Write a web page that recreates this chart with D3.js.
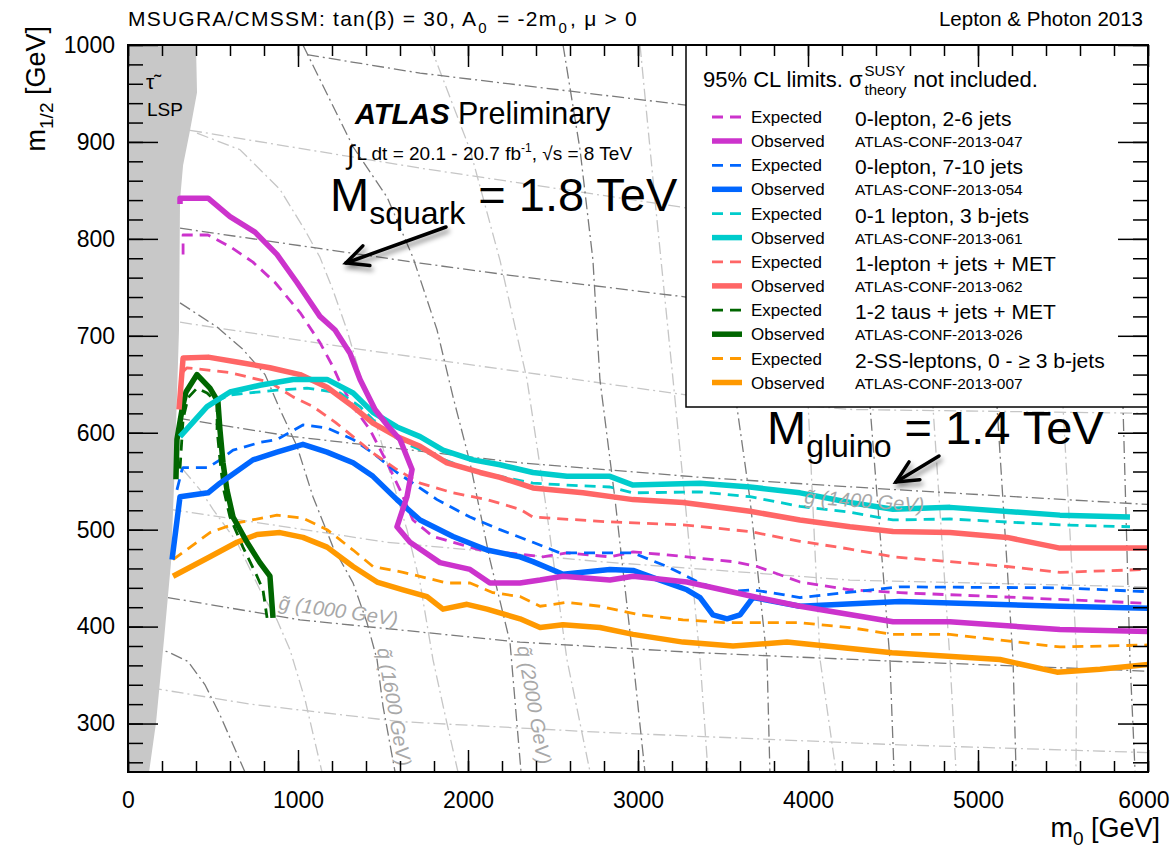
<!DOCTYPE html>
<html><head><meta charset="utf-8">
<script src="https://cdn.jsdelivr.net/npm/d3@7"></script>
<style>
body{margin:0;background:#fff}
svg{display:block}
text{font-family:"Liberation Sans",Arial,Helvetica,sans-serif}
</style>
</head><body>
<svg id="c" width="1170" height="848"></svg>
<script>
// ---------------- data ----------------
const xTicks=[0,1000,2000,3000,4000,5000,6000];
const yTicks=[300,400,500,600,700,800,900,1000];
const xMinor=d3.range(0,6001,200);
const yMinor=d3.range(260,1001,20);

// stau-LSP excluded region (m0, m1/2)
const lspRegion=[[0,250],[124,250],[165,301],[212,387],[253,466],[276,569],[300,706],[306,840],[324,876],[365,912],[406,951],[400,1000],[0,1000]];

// 0-lepton, 2-6 jets
const magExp=[[324,784],[324,804],[471,804],[600,792],[735,776],[865,755],[1012,724],[1129,693],[1206,668],[1247,652],[1324,627],[1424,603],[1524,569],[1600,541],[1676,510],[1794,493],[1912,487],[2071,479],[2441,472],[2582,476],[2835,472],[2971,477],[3171,474],[3559,467],[3700,462],[3953,446],[4247,438],[4541,435],[5229,430],[6000,424]];
const magObs=[[306,836],[306,842],[471,842],[600,823],[747,807],[876,784],[994,755],[1129,720],[1218,706],[1306,682],[1365,655],[1453,624],[1524,608],[1600,593],[1671,562],[1641,534],[1582,503],[1659,487],[1835,466],[2012,459],[2129,445],[2306,445],[2424,448],[2559,452],[2835,448],[2971,452],[3288,446],[3676,431],[3953,421],[4500,405],[4835,405],[5482,397],[6000,395]];
// 0-lepton, 7-10 jets
const blueExp=[[288,541],[318,562],[324,564],[471,564],[541,572],[618,582],[776,590],[876,593],[1029,608],[1171,605],[1324,593],[1441,579],[1582,559],[1676,548],[1818,531],[2012,513],[2188,500],[2382,487],[2541,476],[2835,476],[2971,476],[3171,462],[3365,445],[3524,436],[3676,438],[3953,430],[4541,441],[5482,440],[6000,436]];
const blueObs=[[259,469],[306,534],[471,538],[541,548],[735,572],[876,580],[1029,588],[1171,580],[1324,569],[1441,555],[1582,531],[1718,510],[1912,493],[2112,479],[2306,472],[2382,467],[2559,454],[2835,459],[2971,458],[3129,448],[3288,438],[3365,430],[3441,412],[3524,408],[3600,412],[3676,430],[3953,421],[4541,426],[5482,421],[6000,419]];
// 0-1 lepton, 3 b-jets
const cyanExp=[[512,632],[600,639],[876,644],[1053,646],[1247,641],[1365,627],[1482,606],[1618,590],[1818,575],[2012,562],[2188,555],[2382,548],[2582,546],[2835,544],[2971,538],[3365,539],[3659,534],[3953,524],[4247,518],[4500,510],[4835,511],[5482,505],[5894,503]];
const cyanObs=[[306,596],[465,627],[600,642],[776,649],[971,655],[1171,655],[1324,641],[1441,621],[1582,606],[1718,596],[1853,582],[2029,572],[2188,567],[2382,559],[2582,555],[2835,555],[2971,546],[3365,548],[3659,544],[3953,538],[4247,528],[4500,521],[4835,523],[5482,515],[5894,513]];
// 1-lepton + jets + MET
const redExp=[[324,663],[347,667],[600,662],[835,652],[971,637],[1088,627],[1218,611],[1324,596],[1441,579],[1582,562],[1718,548],[1912,538],[2112,531],[2306,521],[2382,513],[2835,508],[3265,505],[3659,498],[3953,488],[4247,480],[4500,472],[4835,467],[5171,462],[5482,456],[6000,459]];
const redObs=[[300,624],[324,677],[471,678],[641,673],[835,667],[1012,660],[1171,647],[1324,627],[1441,610],[1582,596],[1718,586],[1876,569],[2071,559],[2188,554],[2382,543],[2676,538],[2971,531],[3265,528],[3659,519],[3953,510],[4247,503],[4500,498],[4835,497],[5171,492],[5482,481],[6000,481]];
// 1-2 taus + jets + MET
const greenExp=[[306,563],[324,614],[353,636],[406,646],[465,641],[524,631],[524,603],[541,572],[559,544],[600,513],[676,482],[759,452],[794,438],[818,409]];
const greenObs=[[282,552],[288,593],[318,624],[341,642],[406,660],[482,646],[529,632],[541,603],[559,569],[582,541],[618,513],[700,487],[776,466],[835,452],[853,409]];
// 2-SS-leptons
const orangeExp=[[265,469],[482,497],[641,507],[876,515],[1029,512],[1171,500],[1324,479],[1441,462],[1618,456],[1876,445],[2012,445],[2147,435],[2306,431],[2424,421],[2582,425],[2776,421],[3012,412],[3265,407],[3524,404],[3953,404],[4247,399],[4500,392],[4835,392],[5482,379],[6000,381]];
const orangeObs=[[265,452],[482,472],[641,487],[759,495],[894,497],[1029,492],[1171,482],[1324,462],[1465,446],[1618,438],[1759,431],[1853,418],[1994,423],[2112,418],[2306,408],[2424,399],[2559,402],[2776,399],[2971,392],[3265,384],[3559,380],[3876,384],[4494,373],[4871,369],[5129,366],[5465,353],[5718,356],[6000,361]];

// iso-mass contours (dash-dotted)
const squarkDark=[
 [[129,378],[235,374],[353,364],[453,340],[541,309],[688,250]],
 [[306,734],[524,709],[676,686],[806,660],[894,624],[994,586],[1088,534],[1206,482],[1324,445],[1406,404],[1465,366],[1500,318],[1571,250]],
 [[1029,1000],[1324,895],[1524,843],[1676,781],[1818,706],[1912,637],[2012,569],[2129,469],[2247,384],[2312,250]],
 [[2559,1000],[2659,892],[2735,778],[2776,655],[2865,531],[2971,366],[3041,250]],
 [[3482,1000],[3520,800],[3559,655],[3659,531],[3759,366],[3776,250]],
 [[4306,1000],[4330,800],[4365,627],[4482,366],[4506,250]],
 [[5071,1000],[5090,800],[5112,627],[5206,366],[5224,250]],
 [[5835,1000],[5845,800],[5853,627],[5894,366],[5924,250]]
];
const squarkLight=[
 [[324,562],[424,541],[500,521],[641,487],[776,438],[876,407],[953,376],[1041,325],[1141,250]],
 [[406,909],[659,892],[894,851],[1041,809],[1129,781],[1206,747],[1288,706],[1365,660],[1441,621],[1524,569],[1641,500],[1718,445],[1794,366],[1865,309],[1941,250]],
 [[1776,1000],[2012,892],[2188,778],[2347,655],[2453,531],[2582,366],[2718,250]],
 [[3012,1000],[3100,840],[3206,655],[3276,531],[3365,366],[3412,250]],
 [[3924,1000],[3960,800],[3994,655],[4071,366],[4165,250]],
 [[4659,1000],[4700,800],[4735,627],[4835,366],[4871,250]],
 [[5424,1000],[5460,800],[5500,627],[5582,366],[5576,250]]
];
const gluinoDark=[
 [[235,430],[1012,407],[2306,384],[3365,373],[4541,364],[6000,354]],
 [[294,615],[971,596],[1524,585],[2306,569],[3365,554],[4541,541],[6000,526]],
 [[306,811],[1718,775],[2306,761],[3282,740],[6000,710]],
 [[1053,990],[1718,971],[3282,938],[6000,900]]
];
const gluinoLight=[
 [[129,337],[718,320],[1600,302],[2776,291],[4541,278],[6000,270]],
 [[247,521],[1524,487],[2776,467],[4247,448],[6000,441]],
 [[306,714],[1365,686],[2306,663],[3282,639],[4247,624],[6000,620]],
 [[365,912],[1718,873],[3282,832],[6000,800]]
];

const legendNames=["0-lepton, 2-6 jets","0-lepton, 7-10 jets","0-1 lepton, 3 b-jets","1-lepton + jets + MET","1-2 taus + jets + MET","2-SS-leptons, 0 - \u2265 3 b-jets"];
const legendConfs=["ATLAS-CONF-2013-047","ATLAS-CONF-2013-054","ATLAS-CONF-2013-061","ATLAS-CONF-2013-062","ATLAS-CONF-2013-026","ATLAS-CONF-2013-007"];
const seriesColors=["#CC33CC","#0066FF","#00CCCC","#FF6666","#006600","#FF9900"];
const expectedSeries=[magExp,blueExp,cyanExp,redExp,greenExp,orangeExp];
const observedSeries=[magObs,blueObs,cyanObs,redObs,greenObs,orangeObs];

// ---------------- drawing ----------------
const svg=d3.select('#c');
const L=128,R=1148,T=45,B=772;
const x=d3.scaleLinear().domain([0,6000]).range([L,R]);
const y=d3.scaleLinear().domain([250,1000]).range([B,T]);
const FONT='"Liberation Sans",Arial,Helvetica,sans-serif';

const defs=svg.append('defs');
defs.append('clipPath').attr('id','pc').append('rect').attr('x',L).attr('y',T).attr('width',R-L).attr('height',B-T);
const f=defs.append('filter').attr('id','sh').attr('x','-30%').attr('y','-30%').attr('width','160%').attr('height','160%');
f.append('feDropShadow').attr('dx',2).attr('dy',4).attr('stdDeviation',2.5).attr('flood-color','#000').attr('flood-opacity',0.45);

const plot=svg.append('g').attr('clip-path','url(#pc)');
const line=d3.line().x(d=>x(d[0])).y(d=>y(d[1]));

function contours(arr,col){
  plot.append('g').selectAll('path').data(arr).join('path')
   .attr('d',line).attr('fill','none').attr('stroke',col).attr('stroke-width',1.3)
   .attr('stroke-dasharray','12,4,2,4');
}
contours(squarkLight,'#c6c6c6');
contours(gluinoLight,'#c6c6c6');
contours(squarkDark,'#7a7a7a');
contours(gluinoDark,'#7a7a7a');

// LSP region
plot.append('path').datum(lspRegion).attr('d',line).attr('fill','#c8c8c8').attr('stroke','none');

// contour labels
const gl=svg.append('g').attr('fill','#a8a8a8').attr('font-style','italic').attr('font-size',20);
function clabel(m0,m12,ang,str){
  gl.append('text').attr('transform',`translate(${x(m0)},${y(m12)}) rotate(${ang})`).text(str);
}
clabel(882,418,8,'g\u0303 (1000 GeV)');
clabel(1465,377,80,'q\u0303 (1600 GeV)');
clabel(2288,379,80,'q\u0303 (2000 GeV)');
clabel(3976,527,4,'g\u0303 (1400 GeV)');

// curves
const gc=plot.append('g');
expectedSeries.forEach((s,i)=>{
  gc.append('path').datum(s).attr('d',line).attr('fill','none').attr('stroke',seriesColors[i])
    .attr('stroke-width',2.8).attr('stroke-dasharray','11,7').attr('stroke-linejoin','round');
});
[5,4,3,2,1,0].forEach(i=>{
  gc.append('path').datum(observedSeries[i]).attr('d',line).attr('fill','none').attr('stroke',seriesColors[i])
    .attr('stroke-width',5.5).attr('stroke-linejoin','round');
});

// texts in plot
const tg=svg.append('g').attr('fill','#000');
tg.append('text').attr('x',146).attr('y',89).attr('font-size',21).attr('font-family','"Noto Sans",sans-serif').text('\u03C4\u0303');
tg.append('text').attr('x',147).attr('y',116).attr('font-size',19).text('LSP');

const atl=tg.append('text').attr('x',355).attr('y',124).attr('font-size',29);
atl.append('tspan').attr('font-weight','bold').attr('font-style','italic').text('ATLAS');
atl.append('tspan').attr('font-size',30.5).attr('x',458).text('Preliminary');

const lum=tg.append('text').attr('x',347).attr('y',160).attr('font-size',19);
lum.append('tspan').attr('font-size',27).attr('dy',4).text('\u222B');
lum.append('tspan').attr('dy',-4).attr('dx',2).text('L dt = 20.1 - 20.7 fb');
lum.append('tspan').attr('font-size',12).attr('dy',-8).text('-1');
lum.append('tspan').attr('dy',8).text(', \u221As = 8 TeV');

function massText(x0,yb,sub,rest){
  const t=tg.append('text').attr('x',x0).attr('y',yb).attr('font-size',47);
  t.append('tspan').text('M');
  t.append('tspan').attr('font-size',32).attr('dy',13).text(sub);
  t.append('tspan').attr('dy',-13).text(' '+rest);
}
massText(330,211,'squark','= 1.8 TeV');
massText(767,444,'gluino','= 1.4 TeV');

// arrows
function arrow(x1,y1,x2,y2){
  const g=tg.append('g').attr('filter','url(#sh)').attr('stroke','#000').attr('stroke-width',3.5).attr('stroke-linecap','round').attr('fill','none');
  g.append('line').attr('x1',x1).attr('y1',y1).attr('x2',x2).attr('y2',y2);
  const a=Math.atan2(y2-y1,x2-x1), h=24, w=0.45;
  g.append('path').attr('d',`M${x2-h*Math.cos(a-w)},${y2-h*Math.sin(a-w)} L${x2},${y2} L${x2-h*Math.cos(a+w)},${y2-h*Math.sin(a+w)}`).attr('stroke-linejoin','miter');
}
arrow(446,227,346,263);
arrow(939,456,896,482);

// legend
const lg=svg.append('g');
lg.append('rect').attr('x',686).attr('y',T).attr('width',R-686).attr('height',407-T).attr('fill','#fff').attr('stroke','#000').attr('stroke-width',1.5);
const h1=lg.append('text').attr('x',703).attr('y',87).attr('font-size',22).text('95% CL limits. \u03C3');
const w1=h1.node().getComputedTextLength();
lg.append('text').attr('x',703+w1+2).attr('y',76).attr('font-size',15).text('SUSY');
const ts=lg.append('text').attr('x',703+w1+2).attr('y',95).attr('font-size',15).text('theory');
const w2=ts.node().getComputedTextLength();
lg.append('text').attr('x',703+w1+w2+9).attr('y',87).attr('font-size',22).text('not included.');
legendNames.forEach((nm,i)=>{
  const ye=117+i*48.3, yo=141+i*48.3;
  lg.append('line').attr('x1',712).attr('x2',742).attr('y1',ye).attr('y2',ye).attr('stroke',seriesColors[i]).attr('stroke-width',2.8).attr('stroke-dasharray','11,7');
  lg.append('line').attr('x1',712).attr('x2',742).attr('y1',yo).attr('y2',yo).attr('stroke',seriesColors[i]).attr('stroke-width',5.5);
  lg.append('text').attr('x',751).attr('y',ye+6).attr('font-size',17).text('Expected');
  lg.append('text').attr('x',751).attr('y',yo+6).attr('font-size',17).text('Observed');
  lg.append('text').attr('x',855).attr('y',ye+9).attr('font-size',21).text(nm);
  lg.append('text').attr('x',855).attr('y',yo+6).attr('font-size',15.5).text(legendConfs[i]);
});

// axes
function style(g){g.select('.domain').remove();g.selectAll('line').attr('stroke','#000').attr('stroke-width',1.5);g.selectAll('text').attr('font-family',FONT).attr('font-size',23).attr('fill','#000');}
svg.append('g').attr('transform',`translate(0,${B})`).call(d3.axisBottom(x).tickValues(xMinor).tickSize(-11).tickFormat('')).call(style);
const xax=svg.append('g').attr('transform',`translate(0,${B})`).call(d3.axisBottom(x).tickValues(xTicks).tickSizeInner(-22).tickSizeOuter(0).tickPadding(20).tickFormat(d3.format('d'))).call(style);
xax.selectAll('.tick').filter(d=>d===6000).select('text').attr('text-anchor','end').attr('x',21);
svg.append('g').attr('transform',`translate(0,${T})`).call(d3.axisTop(x).tickValues(xMinor).tickSize(-11).tickFormat('')).call(style);
svg.append('g').attr('transform',`translate(0,${T})`).call(d3.axisTop(x).tickValues(xTicks).tickSize(-22).tickFormat('')).call(style);
svg.append('g').attr('transform',`translate(${L},0)`).call(d3.axisLeft(y).tickValues(yMinor).tickSize(-15).tickFormat('')).call(style);
svg.append('g').attr('transform',`translate(${L},0)`).call(d3.axisLeft(y).tickValues(yTicks).tickSizeInner(-30).tickSizeOuter(0).tickPadding(13).tickFormat(d3.format('d'))).call(style);
svg.append('g').attr('transform',`translate(${R},0)`).call(d3.axisRight(y).tickValues(yMinor).tickSize(-15).tickFormat('')).call(style);
svg.append('g').attr('transform',`translate(${R},0)`).call(d3.axisRight(y).tickValues(yTicks).tickSize(-30).tickFormat('')).call(style);
svg.append('rect').attr('x',L).attr('y',T).attr('width',R-L).attr('height',B-T).attr('fill','none').attr('stroke','#000').attr('stroke-width',2);

// titles
const tt=svg.append('text').attr('x',128).attr('y',26).attr('font-size',21);
tt.append('tspan').text('MSUGRA/CMSSM: tan(\u03B2) = 30, A');
tt.append('tspan').attr('font-size',15).attr('dy',7).attr('dx',1).text('0');
tt.append('tspan').attr('dy',-7).attr('dx',2).text(' = -2m');
tt.append('tspan').attr('font-size',15).attr('dy',7).attr('dx',1).text('0');
tt.append('tspan').attr('dy',-7).attr('dx',2).text(', \u03BC > 0');
{
  const len=tt.node().getComputedTextLength();
  const n=tt.text().length;
  const target=504;
  if(len<target) tt.attr('letter-spacing',((target-len)/n).toFixed(2));
}
svg.append('text').attr('x',1143).attr('y',26).attr('font-size',20.5).attr('text-anchor','end').text('Lepton & Photon 2013');

const xl=svg.append('text').attr('x',1160).attr('y',837).attr('font-size',27).attr('text-anchor','end');
xl.append('tspan').text('m');
xl.append('tspan').attr('font-size',19).attr('dy',8).text('0');
xl.append('tspan').attr('dy',-8).text(' [GeV]');
const yl=svg.append('text').attr('transform','translate(45,26) rotate(-90)').attr('font-size',27).attr('text-anchor','end');
yl.append('tspan').text('m');
yl.append('tspan').attr('font-size',19).attr('dy',8).text('1/2');
yl.append('tspan').attr('dy',-8).text(' [GeV]');
</script>
</body></html>
